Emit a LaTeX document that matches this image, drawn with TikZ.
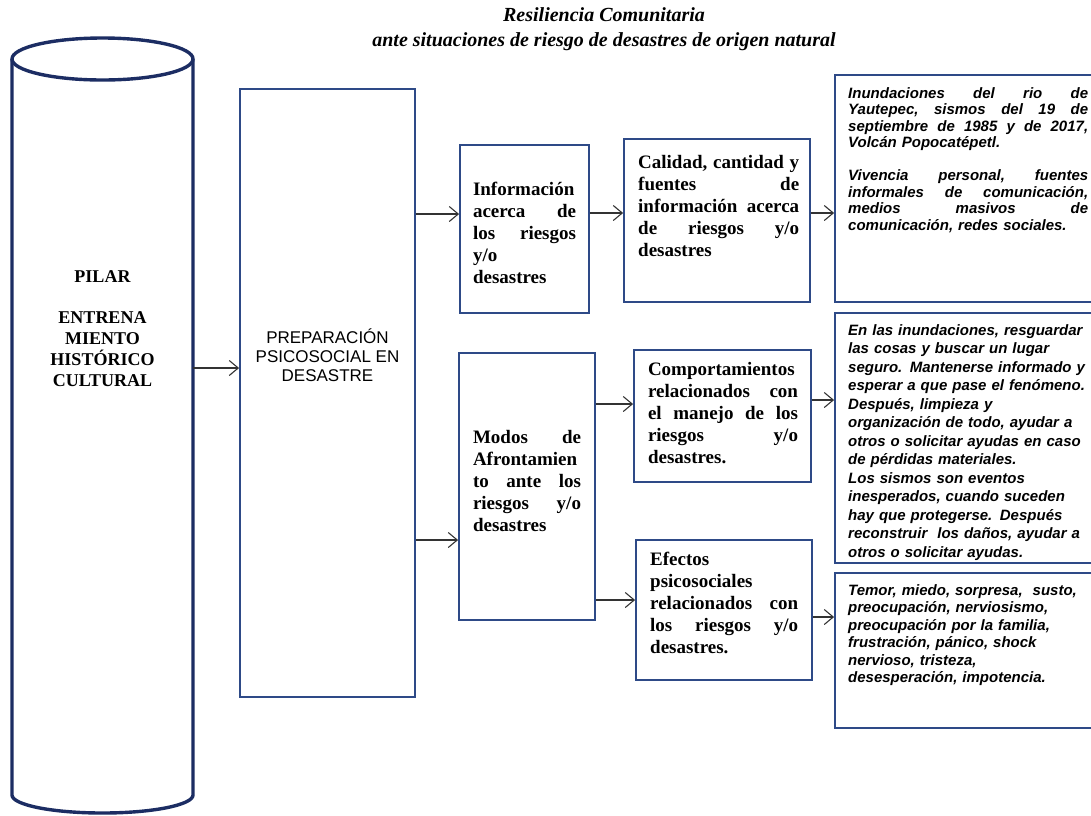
\documentclass[tikz,border=0pt]{standalone}
\usepackage{fontspec}
\setmainfont{Liberation Serif}
\newfontfamily\arialfam{Liberation Sans}
\usepackage{xcolor}
\definecolor{cborde}{HTML}{2E4A87}
\definecolor{cpilar}{HTML}{1C2D63}
\definecolor{cflecha}{HTML}{333333}
\usepackage{tikz}
\usetikzlibrary{arrows.meta, positioning, fit}

\begin{document}
\begin{tikzpicture}[x=1pt, y=-1pt,
  caja/.style={draw=cborde, line width=1.8pt, inner sep=0pt},
  flecha/.style={draw=cflecha, line width=1.1pt, -{Straight Barb[length=9pt, width=15pt, line width=1.1pt]}},
  serif/.style={font=\fontsize{19}{22}\selectfont\bfseries, align=left, inner sep=0pt},
  arial/.style={font=\arialfam\fontsize{15}{17.5}\selectfont\bfseries\itshape, align=left, inner sep=0pt, anchor=north west, text width=240pt}]
  \useasboundingbox (0,0) rectangle (1091,815);
  % Título
  \node[font=\fontsize{20}{25}\selectfont\bfseries\itshape, align=center] (titulo) at (604,29)
    {Resiliencia Comunitaria\\ante situaciones de riesgo de desastres de origen natural};
  % Pilar (cilindro)
  \draw[cpilar, line width=3.4pt] (12,59) -- (12,795) arc[start angle=180, end angle=0, x radius=90.5, y radius=18] -- (193,59);
  \draw[cpilar, line width=3.4pt] (102.5,59) ellipse[x radius=90.5, y radius=21];
  \node[font=\fontsize{18}{21}\selectfont\bfseries, align=center] (pilar) at (102.5,329)
    {PILAR\\[20pt]ENTRENA\\MIENTO\\HISTÓRICO\\CULTURAL};
  \coordinate (pilarE) at (193,368);
  % Cajas
  \node[caja, fit={(240,89) (415,697)}] (prep) {};
  \node[caja, fit={(460,145) (589,313)}] (info) {};
  \node[caja, fit={(624,139) (810,302)}] (calidad) {};
  \node[caja, fit={(459,353) (595,620)}] (modos) {};
  \node[caja, fit={(634,350) (811,482)}] (comport) {};
  \node[caja, fit={(636,540) (812,680)}] (efectos) {};
  \node[caja, fit={(835,75) (1095,302)}] (fuentes) {};
  \node[caja, fit={(835,313) (1095,563)}] (manejo) {};
  \node[caja, fit={(835,573) (1095,728)}] (emociones) {};
  % Textos
  \node[font=\arialfam\fontsize{17}{19}\selectfont, align=center] (preptxt) at (327.5,355)
    {PREPARACIÓN\\PSICOSOCIAL EN\\DESASTRE};
  \node[serif, text width=103pt] (infotxt) at (524.5,233)
    {Información\\acerca \hfill de\\los \hfill riesgos\\y/o\\desastres};
  \node[serif, text width=161pt, anchor=north west] (calidadtxt) at (638,155)
    {Calidad,\hfill cantidad\hfill y\\fuentes \hfill de\\información \hfill acerca\\de \hfill riesgos \hfill y/o\\desastres};
  \node[serif, text width=108pt] (modostxt) at (527,481)
    {Modos \hfill de\\Afrontamien\\to \hfill ante \hfill los\\riesgos \hfill y/o\\desastres};
  \node[serif, text width=150pt] (comporttxt) at (723,413)
    {Comportamientos\\relacionados \hfill con\\el \hfill manejo \hfill de \hfill los\\riesgos \hfill y/o\\desastres.};
  \node[serif, text width=148pt, anchor=north west] (efectostxt) at (650,552)
    {Efectos\\psicosociales\\relacionados \hfill con\\los \hfill riesgos \hfill y/o\\desastres.};
  \node[arial, font=\arialfam\fontsize{15}{16.5}\selectfont\bfseries\itshape] (fuentestxt) at (848,87)
    {Inundaciones \hfill del \hfill rio \hfill de\\
     Yautepec, \hfill sismos \hfill del \hfill 19 \hfill de\\
     septiembre \hfill de \hfill 1985 \hfill y \hfill de \hfill 2017,\\
     Volcán Popocatépetl.\\[16.5pt]
     Vivencia \hfill personal, \hfill fuentes\\
     informales \hfill de \hfill comunicación,\\
     medios \hfill masivos \hfill de\\
     comunicación, redes sociales.};
  \node[arial, font=\arialfam\fontsize{15}{18.5}\selectfont\bfseries\itshape] (manejotxt) at (848,324)
    {En las inundaciones, resguardar\\
     las cosas y buscar un lugar\\
     seguro. Mantenerse informado y\\
     esperar a que pase el fenómeno.\\
     Después, limpieza y\\
     organización de todo, ayudar a\\
     otros o solicitar ayudas en caso\\
     de pérdidas materiales.\\
     Los sismos son eventos\\
     inesperados, cuando suceden\\
     hay que protegerse. Después\\
     reconstruir\ \ los daños, ayudar a\\
     otros o solicitar ayudas.};
  \node[arial] (emocionestxt) at (848,584)
    {Temor, miedo, sorpresa,\ \ susto,\\
     preocupación, nerviosismo,\\
     preocupación por la familia,\\
     frustración, pánico, shock\\
     nervioso, tristeza,\\
     desesperación, impotencia.};
  % Flechas
  \draw[flecha] (pilarE) -- (prep.west |- pilarE);
  \draw[flecha] (prep.east |- 0,214) -- (info.west |- 0,214);
  \draw[flecha] (prep.east |- 0,540) -- (modos.west |- 0,540);
  \draw[flecha] (info.east |- 0,213) -- (calidad.west |- 0,213);
  \draw[flecha] (calidad.east |- 0,213) -- (fuentes.west |- 0,213);
  \draw[flecha] (modos.east |- 0,404) -- (comport.west |- 0,404);
  \draw[flecha] (modos.east |- 0,600) -- (efectos.west |- 0,600);
  \draw[flecha] (comport.east |- 0,400) -- (manejo.west |- 0,400);
  \draw[flecha] (efectos.east |- 0,617) -- (emociones.west |- 0,617);
\end{tikzpicture}
\end{document}
